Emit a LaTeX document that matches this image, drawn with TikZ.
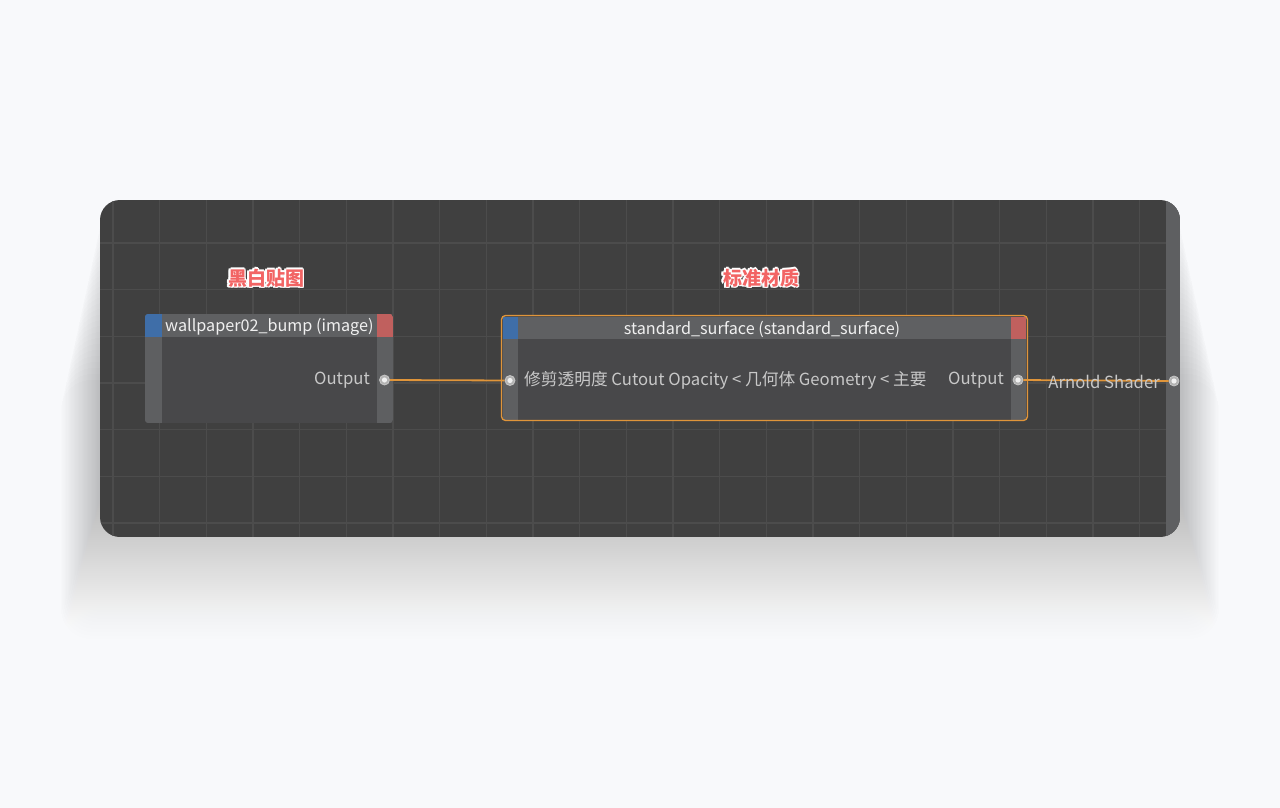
\documentclass[tikz,border=0pt]{standalone}
\usepackage{fontspec}
\setmainfont{Noto Sans CJK SC}
\usepackage{tikz}
\usetikzlibrary{calc}

\definecolor{pagebg}{HTML}{F8F9FB}
\definecolor{shade}{HTML}{7A82A0}
\definecolor{panelbg}{HTML}{404040}
\definecolor{gridline}{HTML}{4C4C4C}
\definecolor{sidebar}{HTML}{5E5F61}
\definecolor{nodebody}{HTML}{48484A}
\definecolor{headbar}{HTML}{5F6062}
\definecolor{inblue}{HTML}{3F6EA8}
\definecolor{outred}{HTML}{C0605E}
\definecolor{wireorange}{HTML}{E0953A}
\definecolor{soft}{HTML}{C8C8C8}
\definecolor{tagred}{HTML}{F26464}

\tikzset{
  porthole/.style={circle,inner sep=0pt,minimum size=10pt,fill=gray!60,draw=gray!45,line width=.8pt,
    path picture={\fill[white!88!gray] (path picture bounding box.center) circle (2.6pt);}},
  wire/.style={wireorange,line width=1.8pt},
  soft text/.style={text=soft,inner sep=0pt,font=\fontsize{16.7}{19}\selectfont},
  head text/.style={text=white!94!black,inner sep=0pt,font=\fontsize{16.2}{19}\selectfont},
}

\newcommand{\tagtext}[2]{% position, text
  \foreach \dx/\dy in {-1.5/0,1.5/0,0/-1.5,0/1.5,-1.1/-1.1,1.1/1.1,-1.1/1.1,1.1/-1.1}
    \node[text=white,inner sep=0pt,font=\fontsize{19}{21}\bfseries] at ($#1+(\dx,\dy)$) {#2};
  \node[text=tagred,inner sep=0pt,font=\fontsize{19}{21}\bfseries] at #1 {#2};
}

\begin{document}
\begin{tikzpicture}[x=1pt,y=-1pt]
\useasboundingbox[fill=pagebg] (0,0) rectangle (1280,808);

% shadow under the panel
\foreach \i in {1,...,30}
  \fill[shade,opacity=.0045,rounded corners=30] (100-\i*1.3,200+\i*6) rectangle (1180+\i*1.3,537+\i*3.4);

% panel with grid
\begin{scope}
\clip[rounded corners=20] (100,200) rectangle (1180,537);
\fill[panelbg] (100,200) rectangle (1180,537);
\foreach \x in {0,...,22}
  \draw[gridline,line width=1.2pt] (113+\x*46.67,200) -- (113+\x*46.67,537);
\foreach \y in {0,...,6}
  \draw[gridline,line width=1.2pt] (100,243+\y*46.67) -- (1180,243+\y*46.67);
\fill[sidebar] (1166,200) rectangle (1180,537);
\end{scope}

% labels
\tagtext{(266,278)}{黑白贴图}
\tagtext{(761,278)}{标准材质}

% image node
\begin{scope}
\clip[rounded corners=3] (145,314) rectangle (393,423);
\fill[nodebody] (145,314) rectangle (393,423);
\fill[headbar] (145,314) rectangle (393,337);
\fill[sidebar] (145,337) rectangle (162,423);
\fill[sidebar] (377,337) rectangle (393,423);
\fill[inblue] (145,314) rectangle (162,337);
\fill[outred] (377,314) rectangle (393,337);
\end{scope}
\node[head text,anchor=west] (imgtitle) at (165,326.5) {wallpaper02\_bump (image)};
\node[soft text,anchor=east] (imgout) at (370,380.5) {Output};
\node[porthole] (imgport) at (384.5,380) {};

% standard_surface node
\begin{scope}
\clip[rounded corners=4] (501.5,315.5) rectangle (1027.5,420.5);
\fill[nodebody] (501.5,315.5) rectangle (1027.5,420.5);
\fill[headbar] (503,317) rectangle (1026,339);
\fill[sidebar] (503,339) rectangle (518,420);
\fill[sidebar] (1011,339) rectangle (1026,420);
\fill[inblue] (503,317) rectangle (518,339);
\fill[outred] (1011,317) rectangle (1026,339);
\end{scope}
\draw[wireorange,line width=1.3pt,rounded corners=4] (501.5,315.5) rectangle (1027.5,420.5);
\node[head text] (stdtitle) at (762,329) {standard\_surface (standard\_surface)};
\node[soft text,anchor=west] (stdin) at (524,380.5) {修剪透明度 Cutout Opacity < 几何体 Geometry < 主要};
\node[soft text,anchor=east] (stdout) at (1004,380.5) {Output};
\node[porthole] (stdinport) at (510,380.5) {};
\node[porthole] (stdoutport) at (1018,380) {};

% shader end on the right bar
\node[porthole] (shaderport) at (1174,381) {};

% wires
\draw[wire] (imgport) -- (stdinport);
\draw[wire] (stdoutport) -- (shaderport);
\node[soft text,anchor=east] (shader) at (1160,381.5) {Arnold Shader};
\end{tikzpicture}
\end{document}
